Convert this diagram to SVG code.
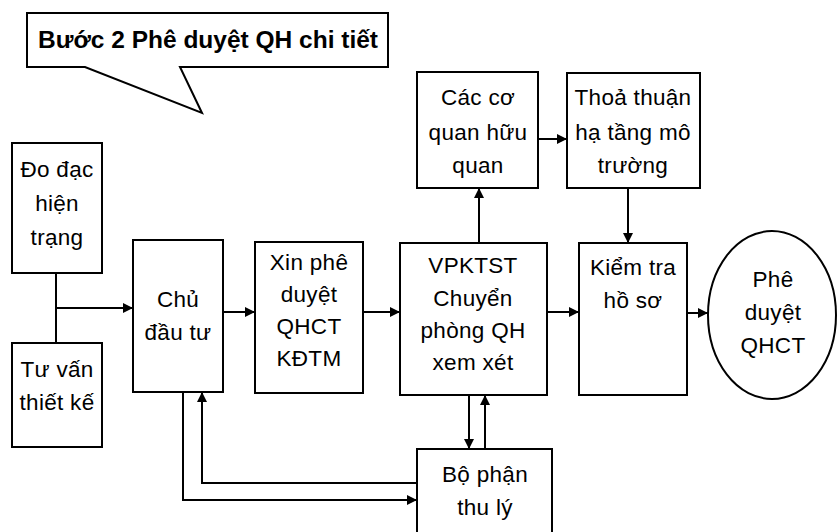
<svg xmlns="http://www.w3.org/2000/svg" width="840" height="532" viewBox="0 0 840 532">
<defs>
<marker id="ah" viewBox="0 0 10 10" refX="10" refY="5" markerWidth="10" markerHeight="10" markerUnits="userSpaceOnUse" orient="auto">
<path d="M0,0 L10,5 L0,10 Z" fill="#000"/>
</marker>
</defs>
<style>
.box{fill:#fff;stroke:#000;stroke-width:2}
.t{font-family:"Liberation Sans",Arial,sans-serif;font-size:22.5px;letter-spacing:0.3px;fill:#000;text-anchor:middle}
.c{fill:none;stroke:#000;stroke-width:2}
.a{marker-end:url(#ah)}
</style>
<rect width="840" height="532" fill="#fff"/>
<g id="callout">
<path class="box" d="M27,13 H388 V67 H180 L202,113 L85,67 H27 Z"/>
<text class="t" x="208" y="48" textLength="340" lengthAdjust="spacingAndGlyphs" style="font-weight:bold;font-size:24px;letter-spacing:0">Bước 2 Phê duyệt QH chi tiết</text>
</g>
<g id="dodac">
<rect class="box" x="12" y="143" width="90" height="130"/>
<text class="t" x="57" y="177">Đo đạc</text>
<text class="t" x="57" y="211">hiện</text>
<text class="t" x="57" y="245">trạng</text>
</g>
<g id="tuvan">
<rect class="box" x="12" y="343" width="90" height="104"/>
<text class="t" x="57" y="377">Tư vấn</text>
<text class="t" x="57" y="410">thiết kế</text>
</g>
<g id="chudautu">
<rect class="box" x="133" y="240" width="90" height="152"/>
<text class="t" x="178" y="307">Chủ</text>
<text class="t" x="178" y="340">đầu tư</text>
</g>
<g id="xinpheduyet">
<rect class="box" x="255" y="242" width="108" height="151"/>
<text class="t" x="309" y="270">Xin phê</text>
<text class="t" x="309" y="302">duyệt</text>
<text class="t" x="309" y="334">QHCT</text>
<text class="t" x="309" y="366">KĐTM</text>
</g>
<g id="vpktst">
<rect class="box" x="400" y="243" width="147" height="152"/>
<text class="t" x="473" y="273">VPKTST</text>
<text class="t" x="473" y="306">Chuyển</text>
<text class="t" x="473" y="338">phòng QH</text>
<text class="t" x="473" y="370">xem xét</text>
</g>
<g id="kiemtra">
<rect class="box" x="579" y="243" width="108" height="152"/>
<text class="t" x="633" y="275">Kiểm tra</text>
<text class="t" x="633" y="308">hồ sơ</text>
</g>
<g id="pheduyet">
<ellipse class="box" cx="772" cy="315" rx="64" ry="84"/>
<text class="t" x="773" y="287">Phê</text>
<text class="t" x="773" y="320">duyệt</text>
<text class="t" x="773" y="353">QHCT</text>
</g>
<g id="cacco">
<rect class="box" x="417" y="72" width="121" height="116"/>
<text class="t" x="478" y="105">Các cơ</text>
<text class="t" x="478" y="140">quan hữu</text>
<text class="t" x="478" y="173">quan</text>
</g>
<g id="thoathuan">
<rect class="box" x="567" y="73" width="133" height="115"/>
<text class="t" x="633" y="105">Thoả thuận</text>
<text class="t" x="633" y="140">hạ tầng mô</text>
<text class="t" x="633" y="173">trường</text>
</g>
<g id="bophan">
<rect class="box" x="417" y="449" width="135" height="95"/>
<text class="t" x="485" y="482">Bộ phận</text>
<text class="t" x="485" y="515">thu lý</text>
</g>
<g id="connectors">
<path class="c" d="M56,273 V343"/>
<path class="c a" d="M56,308 H133"/>
<path class="c a" d="M223,312 H255"/>
<path class="c a" d="M363,312 H400"/>
<path class="c a" d="M547,312 H579"/>
<path class="c a" d="M687,313 H708"/>
<path class="c a" d="M479,243 V188"/>
<path class="c a" d="M538,139 H567"/>
<path class="c a" d="M628,188 V243"/>
<path class="c a" d="M469,395 V449"/>
<path class="c a" d="M485,449 V395"/>
<path class="c a" d="M183,392 V500 H417"/>
<path class="c a" d="M417,483 H202 V392"/>
</g>
</svg>
